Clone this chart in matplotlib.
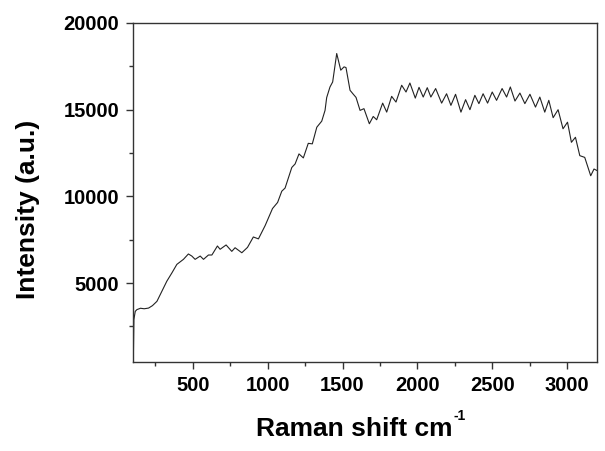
import numpy as np
import matplotlib
matplotlib.use("Agg")
from matplotlib import pyplot as plt
from matplotlib.ticker import MultipleLocator

# Raman spectrum, values
shift = [102, 106, 115, 126, 150, 175, 204, 230, 260, 293, 326, 360, 393, 437,
         470, 493, 515, 549, 571, 604, 627, 664, 682, 722, 760, 782, 827, 865,
         904, 938, 983, 1032, 1066, 1094, 1116, 1161, 1183, 1209, 1238, 1271,
         1298, 1328, 1361, 1383, 1394, 1416, 1434, 1461, 1488, 1510, 1523, 1550,
         1572, 1590, 1617, 1643, 1679, 1705, 1728, 1768, 1795, 1828, 1857, 1895,
         1924, 1950, 1986, 2011, 2039, 2066, 2090, 2122, 2162, 2195, 2224, 2255,
         2291, 2322, 2351, 2384, 2411, 2439, 2469, 2500, 2529, 2566, 2596, 2621,
         2652, 2685, 2718, 2752, 2789, 2818, 2851, 2878, 2907, 2940, 2973, 3003,
         3029, 3056, 3085, 3118, 3158, 3180, 3198]
intensity = [500, 2900, 3370, 3470, 3550, 3520, 3560, 3700, 3950, 4530, 5110,
             5590, 6080, 6370, 6680, 6560, 6370, 6560, 6370, 6620, 6620, 7140,
             6950, 7200, 6830, 7040, 6750, 7060, 7660, 7550, 8320, 9300, 9650,
             10300, 10480, 11670, 11870, 12450, 12220, 13060, 13030, 13990,
             14340, 14960, 15700, 16310, 16600, 18240, 17280, 17470, 17430,
             16120, 15890, 15710, 14960, 15060, 14190, 14610, 14420, 15380,
             14860, 15770, 15440, 16410, 16020, 16540, 15670, 16290, 15730,
             16270, 15730, 16220, 15380, 15920, 15250, 15890, 14860, 15580,
             15000, 15830, 15350, 15920, 15380, 16020, 15540, 16220, 15730,
             16310, 15500, 15960, 15350, 15890, 15150, 15730, 14860, 15540,
             14540, 15000, 13900, 14280, 13120, 13410, 12350, 12250, 11190,
             11580, 11500]

plt.rcParams['font.family'] = ['Liberation Sans', 'DejaVu Sans']
plt.rcParams['font.weight'] = 'bold'

fig = plt.figure(figsize=(6.05, 4.51), dpi=100)
ax = fig.add_axes([133 / 605, 1 - 362 / 451, 464 / 605, 339 / 451])

ax.plot(shift, intensity, color='#222222', linewidth=0.8)

ax.set_xlim(100, 3200)
ax.set_ylim(450, 20000)
ax.xaxis.set_minor_locator(MultipleLocator(250))
ax.yaxis.set_minor_locator(MultipleLocator(2500))
ax.set_xticks([500, 1000, 1500, 2000, 2500, 3000])
ax.set_yticks([5000, 10000, 15000, 20000])

ax.tick_params(which='major', direction='out', length=5, width=1, pad=5,
               labelsize=14.5, color='#333333')
ax.tick_params(which='minor', direction='out', length=3, width=1,
               color='#333333')
for lab in ax.get_xticklabels() + ax.get_yticklabels():
    lab.set_fontweight('bold')
for sp in ax.spines.values():
    sp.set_linewidth(1.0)
    sp.set_color('#333333')

ax.set_xlabel('Raman shift cm', fontsize=19, fontweight='bold')
ax.xaxis.set_label_coords(0.476, -0.162)
fig.text(454 / 605, 1 - 423 / 451, '-1', fontsize=10, fontweight='bold',
         ha='left', va='bottom')
ax.set_ylabel('Intensity (a.u.)', fontsize=19, fontweight='bold')
ax.yaxis.set_label_coords(-0.200, 0.451)

fig.savefig('out.png', dpi=100)
